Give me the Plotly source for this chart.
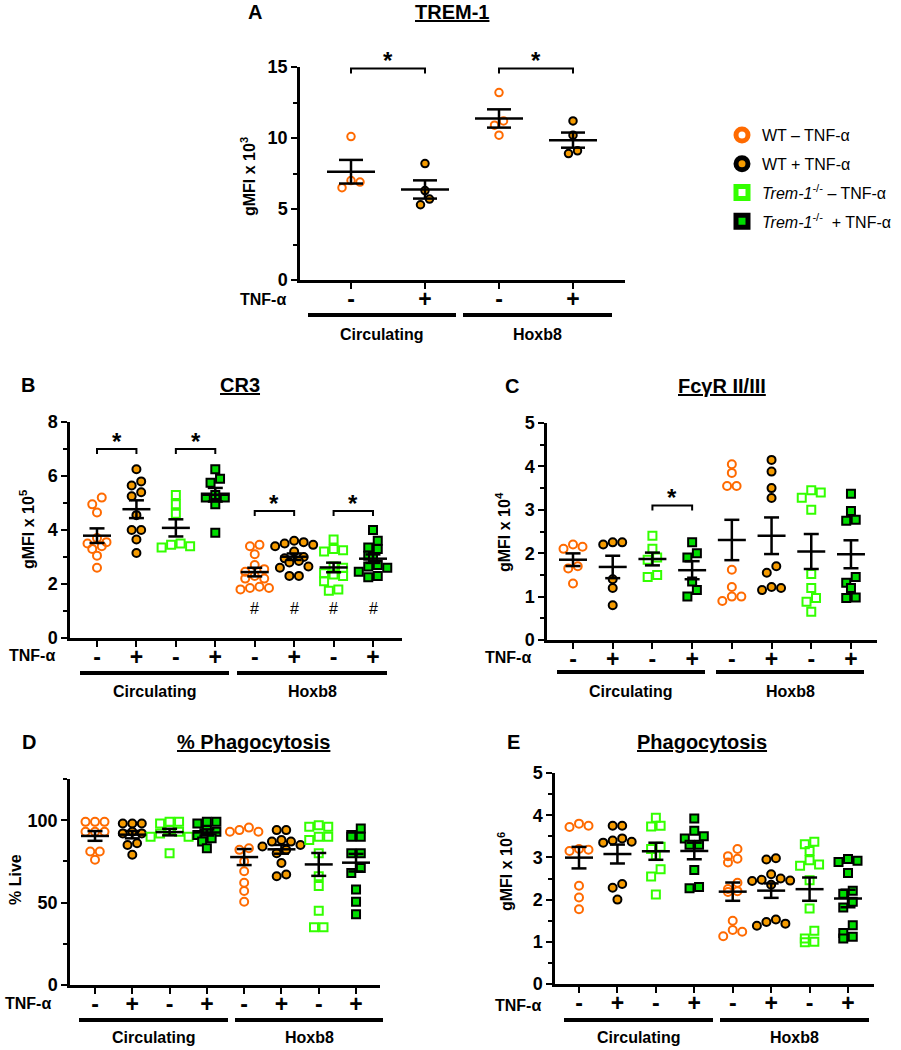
import numpy as np
import plotly.graph_objects as go

W, H = 901, 1050
FONT = "Liberation Sans, Arial, sans-serif"

# ---------------- data ----------------
group_names = ["WT – TNF-α", "WT + TNF-α",
               "<i>Trem-1</i><sup>-/-</sup> – TNF-α",
               "<i>Trem-1</i><sup>-/-</sup>  + TNF-α"]
tnf_labels = ["-", "+", "-", "+", "-", "+", "-", "+"]
source_labels = ["Circulating", "Hoxb8"]

trem1 = [
    [10.1, 7.0, 6.9, 6.5],
    [8.2, 6.3, 5.7, 5.3],
    [13.2, 11.2, 10.9, 10.2],
    [11.2, 10.2, 8.9, 9.1],
]
cr3 = [
    [5.2, 4.95, 4.65, 3.7, 3.55, 3.5, 3.4, 3.3, 3.05, 2.6],
    [6.25, 5.8, 5.65, 5.4, 5.25, 4.55, 4.0, 4.0, 3.65, 3.15],
    [5.3, 4.95, 4.6, 3.5, 3.45, 3.4, 3.35],
    [6.25, 5.9, 5.75, 5.3, 5.2, 5.2, 4.95, 3.9],
    [3.45, 3.4, 3.1, 2.7, 2.55, 2.45, 2.3, 2.2, 2.2, 1.9, 1.85, 1.85, 1.8],
    [3.6, 3.55, 3.5, 3.45, 3.4, 3.2, 3.0, 2.95, 2.85, 2.8, 2.65, 2.6, 2.3, 2.3],
    [3.65, 3.3, 3.25, 3.2, 2.65, 2.6, 2.4, 2.35, 2.3, 2.1, 1.8, 1.75],
    [4.0, 3.6, 3.35, 3.3, 3.05, 3.0, 2.7, 2.65, 2.6, 2.45, 2.3, 2.25],
]
fcgr = [
    [2.2, 2.15, 2.1, 1.7, 1.65, 1.3],
    [2.25, 2.2, 2.25, 1.4, 1.2, 0.8],
    [2.4, 2.1, 1.9, 1.85, 1.5, 1.45],
    [2.25, 2.0, 1.9, 1.35, 1.15, 1.0],
    [4.05, 3.85, 3.55, 3.55, 1.62, 1.22, 1.0, 1.0, 0.9],
    [4.15, 3.88, 3.5, 3.27, 1.7, 1.55, 1.22, 1.2, 1.15],
    [3.45, 3.4, 3.28, 3.0, 1.52, 1.2, 0.97, 0.88, 0.65],
    [3.37, 2.97, 2.77, 2.75, 1.45, 1.32, 1.2, 0.98, 0.97],
]
pct_phago = [
    [99, 99, 99, 93, 93, 93, 81, 81, 76],
    [98, 98, 98, 93, 92, 92, 86, 85, 79],
    [99, 99, 98, 94, 93, 92, 90, 90, 80],
    [99, 99, 98, 94, 93, 91, 89, 87, 83],
    [95.5, 94, 93, 93, 83, 82, 75, 69, 62, 57, 50.5],
    [94, 94, 88, 87, 87, 85, 84, 82, 80, 74, 67, 66],
    [97, 96, 96, 90, 90, 88, 80, 66, 60, 45, 35, 35],
    [95, 91, 90, 90, 80, 80, 71, 68, 58, 50.5, 43],
]
phago = [
    [3.8, 3.75, 3.72, 3.2, 3.18, 3.15, 2.33, 2.05, 1.77],
    [3.75, 3.75, 3.45, 3.4, 3.37, 3.35, 2.37, 2.28, 2.0],
    [3.94, 3.75, 3.73, 3.25, 3.2, 3.05, 2.72, 2.55, 2.12],
    [3.92, 3.63, 3.5, 3.45, 3.3, 3.3, 2.7, 2.3, 2.27],
    [3.2, 3.03, 2.97, 2.88, 2.4, 2.25, 2.2, 2.18, 1.5, 1.28, 1.24, 1.13],
    [2.98, 2.95, 2.6, 2.5, 2.47, 2.45, 2.44, 2.35, 1.53, 1.47, 1.43, 1.38],
    [3.37, 3.31, 3.15, 2.93, 2.83, 2.8, 2.46, 1.79, 1.26, 1.08, 1.0, 0.99],
    [2.96, 2.92, 2.89, 2.63, 2.21, 2.14, 1.95, 1.81, 1.39, 1.21, 1.12, 1.08],
]
sig_A = [(0, 1, 14.9), (2, 3, 14.9)]
sig_B = [(0, 1, 7.0), (2, 3, 7.0), (4, 5, 4.7), (6, 7, 4.7)]
sig_C = [(2, 3, 3.1)]
hash_B = [(4, 1.1), (5, 1.1), (6, 1.1), (7, 1.1)]

# ---------------- styles ----------------
ORANGE = "#FF6A00"
ORANGE_FILL = "#F59B00"
GREEN = "#33FF00"
GREEN_FILL = "#00DD00"
styles = [
    dict(symbol="circle", color="rgba(0,0,0,0)", line=dict(color=ORANGE, width=2)),
    dict(symbol="circle", color=ORANGE_FILL, line=dict(color="black", width=2)),
    dict(symbol="square", color="rgba(0,0,0,0)", line=dict(color=GREEN, width=2)),
    dict(symbol="square", color=GREEN_FILL, line=dict(color="black", width=2)),
]

# panel geometry in pixels
panels = [
    dict(key="A", data=trem1, groups=[0, 1, 0, 1], x0=300, x1=625, c0=351, dx=74,
         ybot=280, ytop=67, ymax=15, dtick=5, minor=2.5, ms=7.5, meanw=24, capw=12,
         sig=sig_A, title="TREM-1", tx=452, ty=12, lx=255,
         ylab="gMFI x 10<sup>3</sup>", ylx=248, yly=177,
         tnf=(263, 299), bar_y=315, bars=[(308, 456), (463, 612)], lab_y=334),
    dict(key="B", data=cr3, groups=[0, 1, 2, 3, 0, 1, 2, 3], x0=70, x1=402, c0=97, dx=39.43,
         ybot=638, ytop=422, ymax=8, dtick=2, minor=1, ms=8, meanw=14, capw=7.5,
         sig=sig_B, title="CR3", tx=240, ty=385, lx=28,
         ylab="gMFI x 10<sup>5</sup>", ylx=27, yly=530,
         tnf=(32, 655), bar_y=673, bars=[(80, 229), (237, 387)], lab_y=691),
    dict(key="C", data=fcgr, groups=[0, 1, 2, 3, 0, 1, 2, 3], x0=547, x1=877, c0=573, dx=39.71,
         ybot=640, ytop=423, ymax=5, dtick=1, minor=0.5, ms=8, meanw=14, capw=7.5,
         sig=sig_C, title="FcγR II/III", tx=722, ty=386, lx=512,
         ylab="gMFI x 10<sup>4</sup>", ylx=503, yly=532,
         tnf=(508, 657), bar_y=672, bars=[(557, 705), (716, 864)], lab_y=691),
    dict(key="D", data=pct_phago, groups=[0, 1, 2, 3, 0, 1, 2, 3], x0=70, x1=380, c0=95, dx=37.29,
         ybot=985, ytop=779, ymax=125, dtick=50, minor=25, ms=8, meanw=14, capw=7.5,
         sig=[], title="% Phagocytosis", tx=253, ty=742, lx=29,
         ylab="% Live", ylx=15, yly=880,
         tnf=(28, 1003), bar_y=1020, bars=[(79, 228), (235, 383)], lab_y=1037),
    dict(key="E", data=phago, groups=[0, 1, 2, 3, 0, 1, 2, 3], x0=555, x1=874, c0=579, dx=38.43,
         ybot=984, ytop=773, ymax=5, dtick=1, minor=0.5, ms=8, meanw=14, capw=7.5,
         sig=[], title="Phagocytosis", tx=702, ty=742, lx=513,
         ylab="gMFI x 10<sup>6</sup>", ylx=505, yly=872,
         tnf=(518, 1005), bar_y=1020, bars=[(564, 713), (720, 869)], lab_y=1037),
]


def px_x(px):
    return px / W


def px_y(py):
    return 1 - py / H


def paper_text(px, py, text, size, angle=0):
    return dict(x=px_x(px), y=px_y(py), xref="paper", yref="paper", text=text,
                showarrow=False, xanchor="center", yanchor="middle", textangle=angle,
                font=dict(size=size, family=FONT, color="black"))


def swarm_offsets(vals, ppy, d):
    """Row-based dot arrangement (GraphPad-like). Returns offsets in pixels."""
    vals = np.asarray(vals, dtype=float)
    order = np.argsort(-vals, kind="stable")
    offs = np.zeros(len(vals))
    rows = []
    cur = []
    for i in order:
        if cur and (vals[cur[0]] - vals[i]) * ppy > 0.8 * d:
            rows.append(cur)
            cur = []
        cur.append(i)
    if cur:
        rows.append(cur)
    for row in rows:
        k = len(row)
        if k % 2 == 1:
            seq = [0]
            for j in range(1, k):
                m = (j + 1) // 2
                seq.append(m if j % 2 == 1 else -m)
        else:
            seq = []
            for j in range(k):
                m = j // 2 + 0.5
                seq.append(m if j % 2 == 0 else -m)
        for idx, s in zip(row, seq):
            offs[idx] = s * d
    return offs


fig = go.Figure()
annotations = []
shapes = []
layout_axes = {}

for pi, p in enumerate(panels):
    n = len(p["data"])
    ax = "" if pi == 0 else str(pi + 1)
    xa, ya = "x" + ax, "y" + ax
    ppy = (p["ybot"] - p["ytop"]) / p["ymax"]   # px per y unit
    ppx = p["dx"]                                # px per category
    d = p["ms"] + 1.5

    # points
    for ci, vals in enumerate(p["data"]):
        g = p["groups"][ci]
        st = styles[g]
        offs = swarm_offsets(vals, ppy, d) / ppx
        fig.add_trace(go.Scatter(
            x=ci + offs, y=vals, mode="markers", xaxis=xa, yaxis=ya,
            showlegend=False, cliponaxis=False, hoverinfo="y",
            marker=dict(symbol=st["symbol"], size=p["ms"], color=st["color"], line=st["line"]),
        ))
    # mean +/- SEM
    for ci, vals in enumerate(p["data"]):
        v = np.asarray(vals, dtype=float)
        m = v.mean()
        s = v.std(ddof=1) / np.sqrt(len(v))
        hw = p["meanw"] / ppx
        cw = p["capw"] / ppx
        xs = [ci - hw, ci + hw, None, ci, ci, None, ci - cw, ci + cw, None, ci - cw, ci + cw]
        ys = [m, m, None, m - s, m + s, None, m + s, m + s, None, m - s, m - s]
        fig.add_trace(go.Scatter(x=xs, y=ys, mode="lines", xaxis=xa, yaxis=ya,
                                 showlegend=False, cliponaxis=False, hoverinfo="skip",
                                 line=dict(color="black", width=2.5)))
    # significance brackets
    for (a, b, yv) in p["sig"]:
        dt = 5 / ppy
        fig.add_trace(go.Scatter(x=[a, a, b, b], y=[yv - dt, yv, yv, yv - dt], mode="lines",
                                 xaxis=xa, yaxis=ya, showlegend=False, cliponaxis=False,
                                 hoverinfo="skip", line=dict(color="black", width=2)))
        annotations.append(dict(x=(a + b) / 2, y=yv, xref=xa, yref=ya, text="<b>*</b>",
                                showarrow=False, xanchor="center", yanchor="middle", yshift=8,
                                font=dict(size=24, family=FONT, color="black")))
    if p["key"] == "B":
        for (c, yv) in hash_B:
            annotations.append(dict(x=c, y=yv, xref=xa, yref=ya, text="#", showarrow=False,
                                    xanchor="center", yanchor="middle",
                                    font=dict(size=16, family=FONT, color="black")))

    # axes
    xr = [(p["x0"] - p["c0"]) / ppx, (p["x1"] - p["c0"]) / ppx]
    layout_axes["xaxis" + ax] = dict(
        domain=[px_x(p["x0"]), px_x(p["x1"])], range=xr, anchor=ya, automargin=False,
        showline=True, linecolor="black", linewidth=2.5, showgrid=False, zeroline=False,
        ticks="outside", ticklen=6, tickwidth=2, tickcolor="black",
        ticklabelstandoff=-9,
        tickvals=list(range(n)), ticktext=["<b>%s</b>" % t for t in tnf_labels[:n]],
        tickfont=dict(size=23, family=FONT, color="black"), fixedrange=True)
    layout_axes["yaxis" + ax] = dict(
        domain=[px_y(p["ybot"]), px_y(p["ytop"])], range=[0, p["ymax"]], anchor=xa,
        automargin=False,
        showline=True, linecolor="black", linewidth=2.5, showgrid=False, zeroline=False,
        ticks="outside", ticklen=6, tickwidth=2, tickcolor="black",
        tick0=0, dtick=p["dtick"], tickfont=dict(size=18, family=FONT, color="black"),
        tickprefix="<b>", ticksuffix="</b>",
        minor=dict(dtick=p["minor"], ticks="outside", ticklen=4, tickwidth=2,
                   tickcolor="black", showgrid=False),
        fixedrange=True)

    # titles, panel letters, labels
    annotations.append(paper_text(p["tx"], p["ty"], "<b><u>%s</u></b>" % p["title"], 20))
    annotations.append(paper_text(p["lx"], p["ty"], "<b>%s</b>" % p["key"], 20))
    annotations.append(paper_text(p["ylx"], p["yly"], "<b>%s</b>" % p["ylab"], 16, angle=-90))
    annotations.append(paper_text(p["tnf"][0], p["tnf"][1], "<b>TNF-α</b>", 16))
    for (b0, b1), lab in zip(p["bars"], source_labels):
        shapes.append(dict(type="line", xref="paper", yref="paper",
                           x0=px_x(b0), x1=px_x(b1), y0=px_y(p["bar_y"]), y1=px_y(p["bar_y"]),
                           line=dict(color="black", width=4)))
        annotations.append(paper_text((b0 + b1) / 2, p["lab_y"], "<b>%s</b>" % lab, 16))

# legend entries (symbols only)
for gi, name in enumerate(group_names):
    st = styles[gi]
    fig.add_trace(go.Scatter(
        x=[None], y=[None], mode="markers", name=name, legendgroup=str(gi),
        showlegend=True, xaxis="x", yaxis="y",
        marker=dict(symbol=st["symbol"], size=12,
                    color=("white" if gi in (0, 2) else st["color"]),
                    line=dict(color=(ORANGE if gi == 0 else GREEN if gi == 2 else "black"), width=5)),
    ))

fig.update_layout(
    width=W, height=H, margin=dict(l=0, r=0, t=0, b=0, autoexpand=False),
    paper_bgcolor="white", plot_bgcolor="white",
    font=dict(family=FONT, color="black"),
    showlegend=True,
    legend=dict(x=px_x(722), y=px_y(118), xanchor="left", yanchor="top",
                font=dict(size=16, family=FONT, color="black"),
                tracegroupgap=5, bgcolor="rgba(0,0,0,0)", borderwidth=0),
    annotations=annotations, shapes=shapes,
    **layout_axes,
)

fig.write_html("out.html", config={"displayModeBar": False},
               post_script="document.body.style.margin='0';document.body.style.overflow='hidden';")
